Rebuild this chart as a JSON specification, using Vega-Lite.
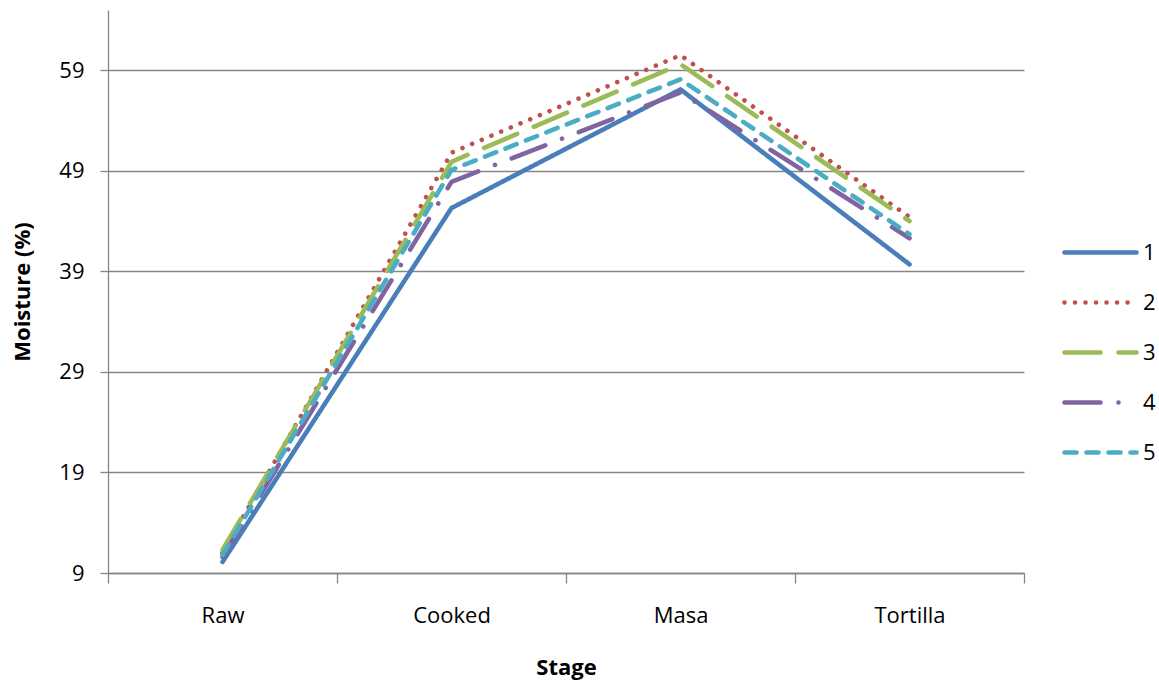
{
  "$schema": "https://vega.github.io/schema/vega-lite/v6.json",
  "autosize": {"type": "none"},
  "padding": {"left": 108, "top": 10, "right": 135, "bottom": 110},
  "width": 916,
  "height": 563,
  "background": "white",
  "config": {
    "view": {"stroke": null},
    "font": "Open Sans",
    "axis": {
      "labelFont": "Open Sans",
      "titleFont": "Open Sans",
      "labelFontSize": 22,
      "titleFontSize": 22,
      "labelColor": "#000000",
      "titleColor": "#000000",
      "titleFontWeight": "bold",
      "domainColor": "#868686",
      "tickColor": "#868686",
      "gridColor": "#868686",
      "domainWidth": 1.3,
      "tickWidth": 1.3,
      "gridWidth": 1.3
    },
    "legend": {"labelFont": "Open Sans", "labelFontSize": 22, "labelColor": "#000000"}
  },
  "data": {
    "values": [
      {"Series": "1", "Stage": "Raw", "Moisture": 10.1},
      {"Series": "1", "Stage": "Cooked", "Moisture": 45.3},
      {"Series": "1", "Stage": "Masa", "Moisture": 57.1},
      {"Series": "1", "Stage": "Tortilla", "Moisture": 39.7},
      {"Series": "2", "Stage": "Raw", "Moisture": 11.0},
      {"Series": "2", "Stage": "Cooked", "Moisture": 50.8},
      {"Series": "2", "Stage": "Masa", "Moisture": 60.5},
      {"Series": "2", "Stage": "Tortilla", "Moisture": 44.4},
      {"Series": "3", "Stage": "Raw", "Moisture": 11.3},
      {"Series": "3", "Stage": "Cooked", "Moisture": 49.9},
      {"Series": "3", "Stage": "Masa", "Moisture": 59.6},
      {"Series": "3", "Stage": "Tortilla", "Moisture": 44.0},
      {"Series": "4", "Stage": "Raw", "Moisture": 10.6},
      {"Series": "4", "Stage": "Cooked", "Moisture": 47.9},
      {"Series": "4", "Stage": "Masa", "Moisture": 56.8},
      {"Series": "4", "Stage": "Tortilla", "Moisture": 42.3},
      {"Series": "5", "Stage": "Raw", "Moisture": 10.8},
      {"Series": "5", "Stage": "Cooked", "Moisture": 49.1},
      {"Series": "5", "Stage": "Masa", "Moisture": 58.1},
      {"Series": "5", "Stage": "Tortilla", "Moisture": 42.7}
    ]
  },
  "mark": {"type": "line", "strokeWidth": 4.6, "strokeCap": "round", "strokeJoin": "round"},
  "encoding": {
    "x": {
      "field": "Stage",
      "type": "nominal",
      "sort": ["Raw", "Cooked", "Masa", "Tortilla"],
      "scale": {"type": "band", "paddingInner": 0, "paddingOuter": 0},
      "axis": {
        "title": "Stage",
        "labelAngle": 0,
        "tickBand": "extent",
        "tickSize": 10,
        "labelPadding": 22,
        "titlePadding": 31,
        "grid": false
      }
    },
    "y": {
      "field": "Moisture",
      "type": "quantitative",
      "scale": {"domain": [9, 65], "nice": false, "zero": false},
      "axis": {
        "title": "Moisture (%)",
        "values": [9, 19, 29, 39, 49, 59],
        "tickSize": 8,
        "labelPadding": 16,
        "titlePadding": 24,
        "grid": true
      }
    },
    "color": {
      "field": "Series",
      "type": "nominal",
      "scale": {"domain": ["1", "2", "3", "4", "5"], "range": ["#4A7EBB", "#C0504D", "#9BBB59", "#8064A2", "#4BACC6"]},
      "legend": {
        "title": null,
        "orient": "none",
        "legendX": 954,
        "legendY": 204,
        "symbolType": "stroke",
        "symbolSize": 5184,
        "symbolStrokeWidth": 4.6,
        "rowPadding": -3.5,
        "labelOffset": 4,
        "encode": {"symbols": {"update": {"strokeCap": {"value": "round"}}}}
      }
    },
    "strokeDash": {
      "field": "Series",
      "type": "nominal",
      "scale": {"domain": ["1", "2", "3", "4", "5"], "range": [[1, 0], [0.01, 10.5], [36, 18], [36, 18, 0.01, 18], [12, 10]]},
      "legend": null
    }
  }
}
